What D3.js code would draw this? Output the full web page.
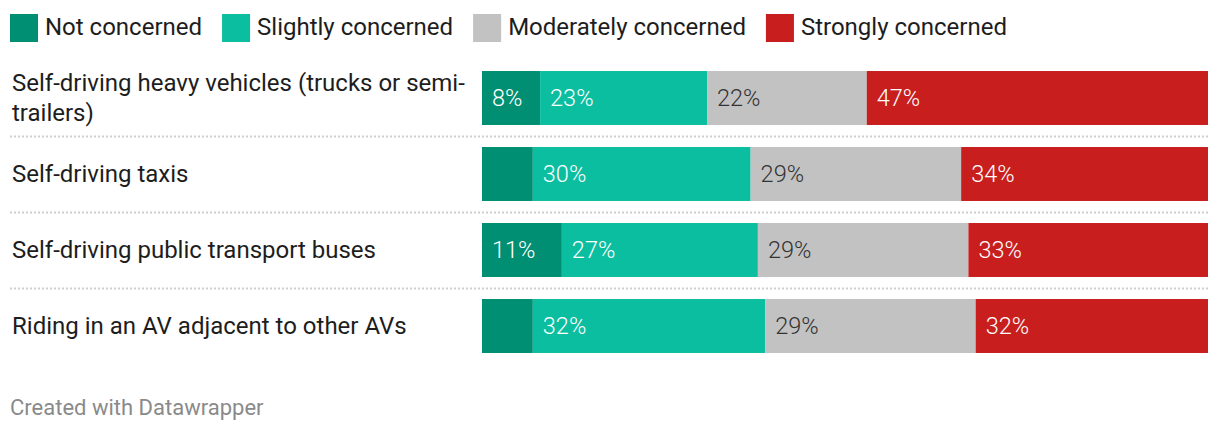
<!DOCTYPE html>
<html>
<head>
<meta charset="utf-8">
<script src="https://cdn.jsdelivr.net/npm/d3@7"></script>
<style>
  body { margin: 0; background: #fff; }
  text { font-family: Roboto, "Noto Sans", sans-serif; }
</style>
</head>
<body>
<div id="container"></div>
<script>
const width = 1220;
const height = 430;

const categories = [
  "Self-driving heavy vehicles (trucks or semi-trailers)",
  "Self-driving taxis",
  "Self-driving public transport buses",
  "Riding in an AV adjacent to other AVs"
];
const seriesNames = ["Not concerned", "Slightly concerned", "Moderately concerned", "Strongly concerned"];
const notConcerned = [8, 7, 11, 7];
const slightly = [23, 30, 27, 32];
const moderately = [22, 29, 29, 29];
const strongly = [47, 34, 33, 32];
// small segments in Datawrapper hide their label
const showLabel = [[true, true, true, true], [false, true, true, true], [true, true, true, true], [false, true, true, true]];

const colors = ["#008f72", "#0bbea0", "#c2c2c2", "#c81e1e"];
const labelColors = ["#fff", "#fff", "#333", "#fff"];

const rows = categories.map((c, i) => ({
  name: c,
  values: [notConcerned[i], slightly[i], moderately[i], strongly[i]]
}));

const svg = d3.select("#container")
  .append("svg")
  .attr("width", width)
  .attr("height", height);

// legend
const legend = svg.append("g");
let lx = 10;
seriesNames.forEach((s, i) => {
  legend.append("rect")
    .attr("x", lx).attr("y", 14)
    .attr("width", 28).attr("height", 28)
    .attr("fill", colors[i]);
  const t = legend.append("text")
    .attr("x", lx + 35).attr("y", 27)
    .attr("dy", "0.35em")
    .attr("font-size", 24)
    .attr("fill", "#1d1d1d")
    .text(s);
  lx += 35 + t.node().getComputedTextLength() + 20;
});

const x = d3.scaleLinear().domain([0, 100]).range([482, 1208]);
const y = d3.scaleBand().domain(d3.range(categories.length)).range([60, 364]).paddingInner(0.29).paddingOuter(0.145);

// dotted separators
svg.append("g").selectAll("line")
  .data(d3.range(1, categories.length))
  .join("line")
  .attr("x1", 10).attr("x2", 1210)
  .attr("y1", i => y(i) - (y.step() - y.bandwidth()) / 2 + 0.5)
  .attr("y2", i => y(i) - (y.step() - y.bandwidth()) / 2 + 0.5)
  .attr("stroke", "#cfcfcf")
  .attr("stroke-width", 2)
  .attr("stroke-dasharray", "2,2");

// row labels with wrapping
function wrapLines(label, maxW, measure) {
  const tokens = [];
  label.split(" ").forEach(w => {
    const parts = w.split(/(?<=-)/);
    parts.forEach((p, k) => tokens.push({ t: p, sp: k === 0 }));
  });
  const lines = [];
  let cur = "";
  tokens.forEach(tok => {
    const next = cur === "" ? tok.t : cur + (tok.sp ? " " : "") + tok.t;
    if (cur !== "" && measure(next) > maxW) {
      lines.push(cur);
      cur = tok.t;
    } else cur = next;
  });
  lines.push(cur);
  return lines;
}

const labelG = svg.append("g");
const probe = labelG.append("text").attr("font-size", 24);
const measure = s => probe.text(s).node().getComputedTextLength();

rows.forEach((r, i) => {
  const lines = wrapLines(r.name, 460, measure);
  const cy = y(i) + y.bandwidth() / 2;
  const lh = 30;
  lines.forEach((ln, k) => {
    labelG.append("text")
      .attr("x", 12)
      .attr("y", cy + (k - (lines.length - 1) / 2) * lh)
      .attr("dy", "0.35em")
      .attr("font-size", 24)
      .attr("fill", "#1d1d1d")
      .text(ln);
  });
});
probe.remove();

// stacked bars
rows.forEach((r, i) => {
  const stacked = d3.cumsum(r.values);
  const segs = r.values.map((v, k) => ({ v, k, x0: stacked[k] - v, x1: stacked[k] }));
  const g = svg.append("g");
  g.selectAll("rect")
    .data(segs)
    .join("rect")
    .attr("x", d => x(d.x0))
    .attr("y", y(i))
    .attr("width", d => x(d.x1) - x(d.x0))
    .attr("height", y.bandwidth())
    .attr("fill", d => colors[d.k]);
  g.selectAll("text")
    .data(segs.filter(d => showLabel[i][d.k]))
    .join("text")
    .attr("x", d => x(d.x0) + 10)
    .attr("y", y(i) + y.bandwidth() / 2)
    .attr("dy", "0.35em")
    .attr("font-size", 23.5)
    .attr("font-weight", 300)
    .attr("fill", d => labelColors[d.k])
    .text(d => d.v + "%");
});

svg.append("text")
  .attr("x", 10).attr("y", 407)
  .attr("dy", "0.35em")
  .attr("font-size", 22)
  .attr("fill", "#8a8a8a")
  .text("Created with Datawrapper");
</script>
</body>
</html>
